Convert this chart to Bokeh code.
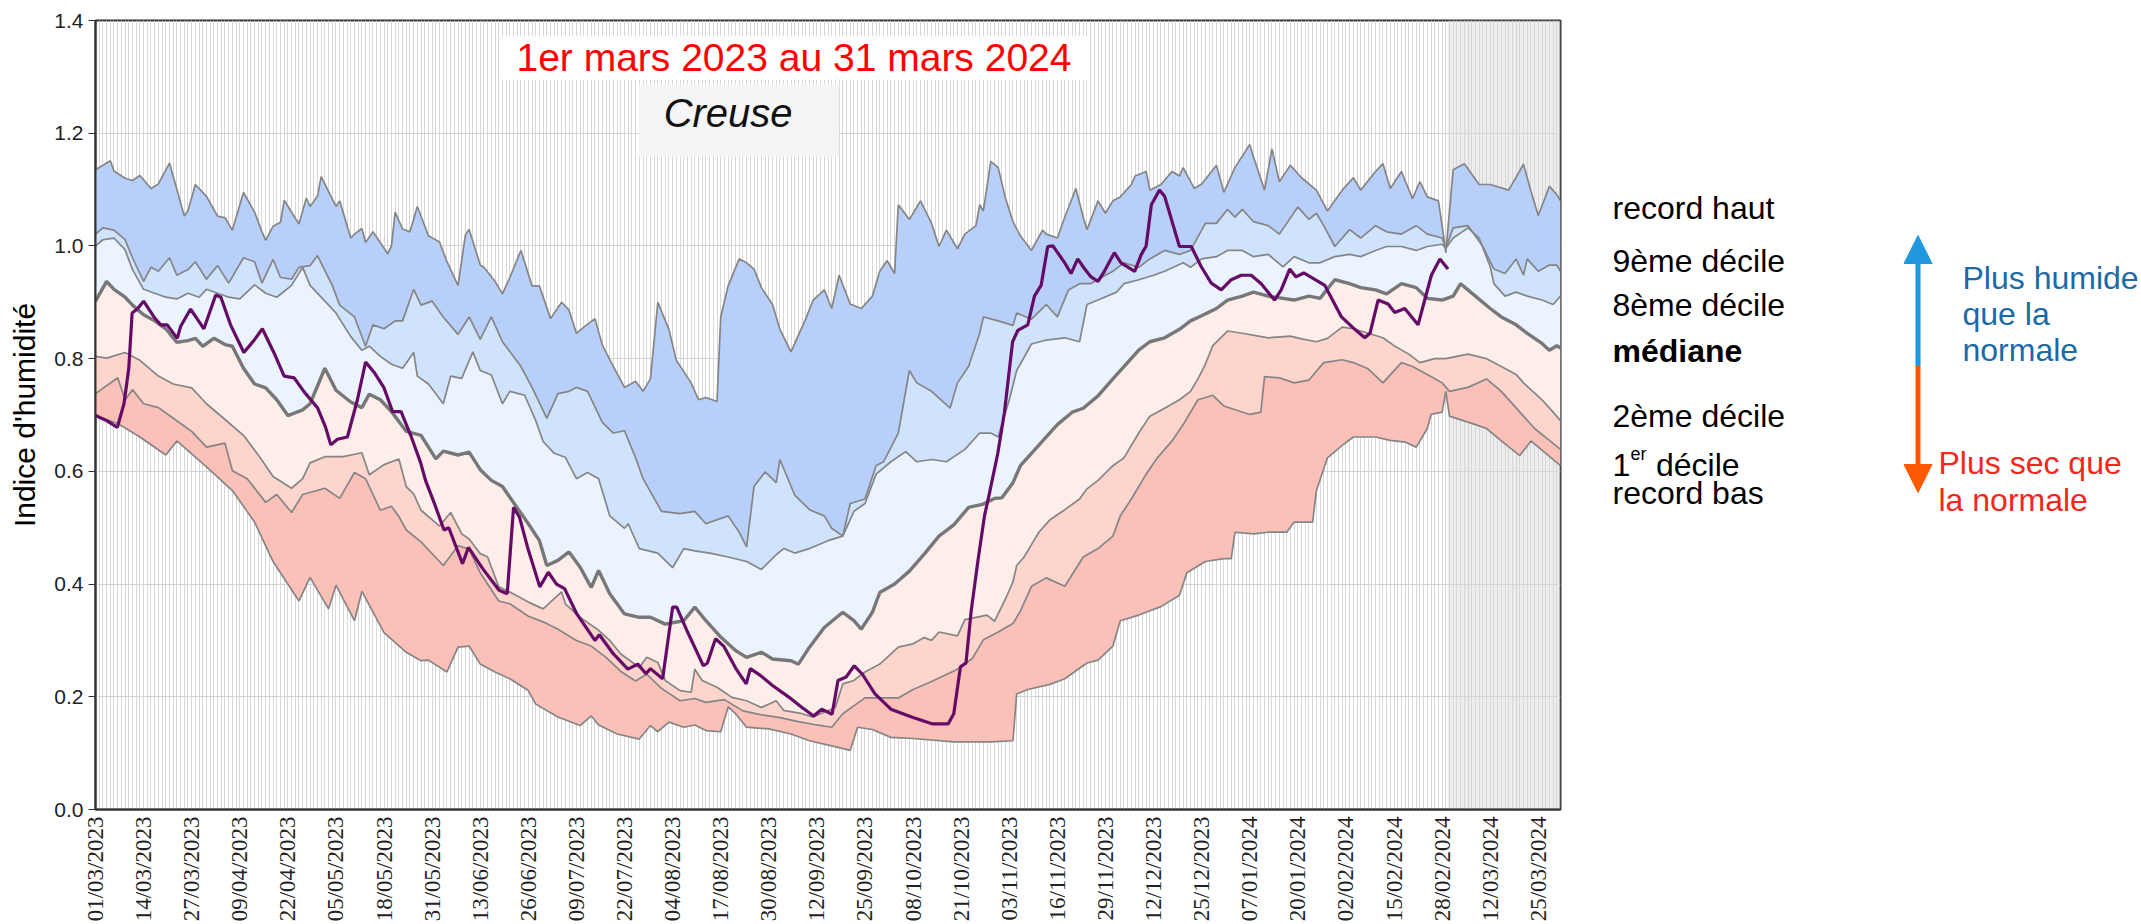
import math
from bokeh.plotting import figure
from bokeh.models import (Range1d, FixedTicker, BoxAnnotation, Label, Arrow,
                          NormalHead, NumeralTickFormatter)
from bokeh.layouts import row
from bokeh.embed import file_html
from bokeh.resources import INLINE

# ---------------- data (day index from 01/03/2023, value) ----------------
tick_labels = ["01/03/2023", "14/03/2023", "27/03/2023", "09/04/2023", "22/04/2023",
               "05/05/2023", "18/05/2023", "31/05/2023", "13/06/2023", "26/06/2023",
               "09/07/2023", "22/07/2023", "04/08/2023", "17/08/2023", "30/08/2023",
               "12/09/2023", "25/09/2023", "08/10/2023", "21/10/2023", "03/11/2023",
               "16/11/2023", "29/11/2023", "12/12/2023", "25/12/2023", "07/01/2024",
               "20/01/2024", "02/02/2024", "15/02/2024", "28/02/2024", "12/03/2024",
               "25/03/2024"]
TICK_STEP_DAYS = 13
LAST_DAY = 396
FUTURE_START = 365.5

record_haut = [(0,1.135),(4,1.151),(5,1.133),(8,1.12),(10,1.116),(12,1.125),(15,1.102),(17,1.11),
    (20,1.147),(24,1.053),(25,1.063),(27,1.109),(30,1.088),(33,1.053),(35,1.05),(37,1.028),
    (40,1.095),(43,1.06),(45,1.025),(46,1.01),(48,1.035),(50,1.042),(51,1.081),(55,1.039),
    (57,1.085),(58,1.07),(60,1.088),(61,1.123),(65,1.07),(66,1.08),(69,1.014),(70,1.021),
    (72,1.031),(73,1.006),(75,1.025),(79,0.986),(80,1.0),(81,1.06),(83,1.03),(85,1.025),
    (87,1.07),(90,1.018),(93,1.007),(95,0.972),(98,0.93),(100,1.02),(101,1.029),(104,0.966),
    (105,0.962),(108,0.937),(110,0.915),(112,0.944),(115,0.992),(118,0.929),(120,0.929),
    (123,0.871),(126,0.9),(128,0.886),(130,0.845),(132,0.856),(135,0.871),(137,0.824),
    (140,0.786),(143,0.749),(146,0.76),(148,0.742),(150,0.764),(152,0.9),(155,0.852),
    (157,0.797),(161,0.757),(163,0.727),(165,0.731),(168,0.724),(169,0.874),(171,0.929),
    (174,0.977),(176,0.97),(178,0.959),(180,0.926),(183,0.896),(185,0.852),(188,0.812),
    (192,0.871),(194,0.904),(197,0.922),(199,0.889),(201,0.948),(204,0.897),(207,0.889),
    (210,0.911),(212,0.955),(214,0.974),(216,0.951),(217,1.073),(220,1.047),(223,1.08),
    (226,1.04),(228,0.999),(230,1.028),(233,0.995),(235,1.021),(238,1.036),(239,1.073),
    (240,1.062),(242,1.15),(244,1.139),(246,1.084),(248,1.043),(250,1.018),(253,0.992),
    (256,1.028),(257,1.021),(260,1.014),(262,1.051),(265,1.102),(267,1.051),(268,1.029),
    (271,1.08),(273,1.058),(275,1.08),(277,1.087),(280,1.109),(281,1.124),(284,1.132),
    (285,1.099),(288,1.109),(291,1.132),(293,1.124),(294,1.139),(297,1.102),(299,1.11),
    (303,1.143),(305,1.095),(308,1.139),(312,1.18),(313,1.158),(316,1.099),(318,1.172),
    (320,1.114),(323,1.143),(326,1.121),(330,1.099),(333,1.062),(337,1.099),(340,1.121),
    (342,1.099),(346,1.132),(348,1.146),(350,1.102),(353,1.132),(356,1.084),(358,1.114),
    (360,1.087),(363,1.08),(364,1.036),(365,0.988),(367,1.135),(370,1.146),(374,1.109),
    (377,1.109),(382,1.099),(386,1.145),(388,1.097),(390,1.054),(393,1.106),(395,1.091),
    (396,1.08)]

decile_9 = [(0,1.021),(2,1.032),(5,1.028),(8,1.011),(10,0.979),(13,0.937),(15,0.962),(17,0.955),
    (20,0.979),(22,0.948),(25,0.958),(27,0.972),(30,0.941),(33,0.965),(36,0.934),(40,0.979),
    (43,0.972),(45,0.934),(48,0.976),(50,0.944),(53,0.941),(55,0.962),(58,0.965),(60,0.983),
    (64,0.93),(66,0.895),(70,0.874),(73,0.822),(75,0.86),(78,0.853),(81,0.867),(83,0.867),
    (86,0.923),(88,0.895),(91,0.902),(94,0.874),(98,0.843),(101,0.874),(104,0.834),(107,0.874),
    (110,0.83),(115,0.786),(118,0.749),(122,0.694),(125,0.738),(128,0.742),(130,0.749),
    (133,0.742),(137,0.687),(140,0.668),(143,0.672),(146,0.624),(148,0.587),(153,0.529),
    (158,0.525),(162,0.529),(165,0.507),(171,0.521),(174,0.492),(176,0.466),(178,0.573),
    (181,0.599),(184,0.58),(185,0.621),(189,0.558),(193,0.532),(197,0.521),(199,0.499),
    (202,0.485),(204,0.543),(208,0.551),(211,0.61),(213,0.617),(217,0.668),(220,0.779),
    (222,0.757),(226,0.742),(231,0.712),(233,0.757),(236,0.786),(239,0.845),(240,0.874),
    (244,0.867),(248,0.859),(249,0.881),(253,0.87),(257,0.896),(260,0.874),(263,0.922),
    (266,0.933),(269,0.933),(273,0.948),(275,0.955),(278,0.97),(282,0.962),(285,0.977),
    (289,0.992),(293,0.985),(296,0.992),(300,1.04),(303,1.04),(306,1.065),(308,1.051),
    (310,1.065),(313,1.043),(317,1.036),(320,1.021),(322,1.04),(325,1.069),(328,1.047),
    (330,1.058),(332,1.036),(335,0.999),(339,1.029),(342,1.014),(346,1.036),(349,1.025),
    (353,1.021),(357,1.036),(360,1.021),(364,1.014),(365,0.996),(367,1.032),(371,1.036),
    (375,0.999),(378,0.959),(381,0.951),(384,0.977),(386,0.948),(387,0.977),(390,0.955),
    (393,0.966),(395,0.966),(396,0.955)]

decile_8 = [(0,1.0),(2,1.011),(5,1.014),(8,0.993),(10,0.958),(13,0.923),(16,0.916),(19,0.909),
    (22,0.906),(25,0.916),(28,0.909),(30,0.923),(33,0.916),(36,0.909),(39,0.906),(43,0.931),
    (46,0.916),(49,0.909),(53,0.93),(56,0.962),(58,0.93),(62,0.902),(65,0.881),(69,0.839),
    (72,0.815),(74,0.822),(77,0.804),(80,0.79),(83,0.783),(86,0.811),(87,0.769),(90,0.755),
    (94,0.72),(96,0.769),(99,0.765),(102,0.812),(104,0.779),(107,0.771),(110,0.72),(112,0.742),
    (116,0.735),(119,0.69),(121,0.653),(124,0.632),(127,0.625),(130,0.587),(133,0.598),
    (136,0.587),(139,0.521),(143,0.499),(144,0.507),(147,0.463),(152,0.455),(156,0.429),
    (159,0.463),(162,0.459),(166,0.455),(171,0.448),(176,0.44),(180,0.426),(184,0.452),
    (186,0.463),(189,0.455),(193,0.463),(198,0.477),(202,0.485),(205,0.529),(208,0.543),
    (211,0.595),(215,0.617),(219,0.635),(222,0.617),(226,0.621),(230,0.617),(235,0.639),
    (239,0.668),(242,0.668),(244,0.661),(247,0.727),(249,0.779),(253,0.826),(257,0.833),
    (262,0.837),(266,0.83),(268,0.896),(271,0.904),(276,0.918),(278,0.933),(282,0.94),
    (286,0.948),(289,0.955),(294,0.97),(296,0.962),(299,0.977),(303,0.981),(306,0.992),
    (310,0.992),(313,0.981),(317,0.985),(321,0.963),(324,0.981),(328,0.97),(331,0.97),
    (335,0.981),(339,0.985),(342,0.981),(346,0.992),(349,0.999),(353,0.999),(357,0.992),
    (360,0.999),(364,1.003),(365,0.996),(367,1.014),(371,1.032),(374,1.014),(377,0.963),
    (378,0.933),(381,0.911),(384,0.918),(387,0.911),(391,0.904),(394,0.896),(396,0.911)]

mediane = [(0,0.902),(3,0.937),(5,0.923),(8,0.909),(10,0.895),(13,0.878),(16,0.867),(19,0.853),
    (22,0.829),(25,0.832),(27,0.836),(29,0.822),(32,0.836),(35,0.825),(37,0.822),(40,0.783),
    (43,0.755),(46,0.748),(49,0.727),(52,0.699),(56,0.709),(58,0.72),(62,0.783),(65,0.744),
    (69,0.723),(72,0.713),(74,0.737),(77,0.727),(80,0.706),(84,0.671),(88,0.664),(90,0.643),
    (92,0.622),(94,0.636),(98,0.629),(101,0.634),(104,0.603),(107,0.584),(110,0.573),
    (112,0.554),(117,0.507),(120,0.477),(122,0.433),(125,0.442),(128,0.457),(131,0.43),
    (134,0.394),(136,0.424),(139,0.383),(143,0.347),(147,0.341),(150,0.341),(154,0.329),
    (159,0.335),(162,0.359),(165,0.335),(169,0.306),(173,0.282),(176,0.27),(180,0.279),
    (183,0.267),(188,0.264),(190,0.258),(193,0.288),(197,0.323),(202,0.35),(205,0.335),
    (207,0.32),(210,0.35),(212,0.385),(216,0.4),(220,0.423),(224,0.453),(228,0.485),
    (232,0.505),(236,0.536),(240,0.542),(243,0.552),(245,0.553),(248,0.58),(250,0.61),
    (253,0.632),(257,0.661),(260,0.683),(264,0.705),(267,0.712),(271,0.734),(275,0.764),
    (278,0.786),(282,0.815),(285,0.83),(289,0.837),(293,0.852),(296,0.867),(299,0.876),
    (303,0.889),(306,0.904),(310,0.911),(313,0.918),(317,0.911),(321,0.907),(324,0.904),
    (328,0.911),(331,0.907),(335,0.94),(339,0.933),(342,0.926),(346,0.922),(349,0.915),
    (353,0.933),(357,0.926),(360,0.907),(364,0.904),(367,0.911),(369,0.933),(373,0.911),
    (377,0.889),(380,0.874),(384,0.86),(387,0.845),(391,0.827),(393,0.815),(395,0.823),
    (396,0.819)]

decile_2 = [(0,0.804),(3,0.801),(8,0.811),(12,0.797),(17,0.769),(21,0.755),(26,0.748),(30,0.72),
    (35,0.692),(40,0.664),(44,0.629),(48,0.591),(53,0.57),(56,0.587),(58,0.615),(62,0.626),
    (67,0.626),(72,0.633),(74,0.594),(78,0.612),(82,0.622),(84,0.573),(86,0.56),(88,0.531),
    (93,0.503),(96,0.527),(99,0.489),(101,0.48),(104,0.454),(106,0.448),(109,0.395),
    (112,0.386),(117,0.368),(121,0.356),(126,0.386),(127,0.365),(131,0.341),(136,0.318),
    (139,0.3),(142,0.276),(147,0.252),(149,0.27),(152,0.261),(154,0.229),(158,0.211),
    (161,0.208),(162,0.249),(164,0.229),(168,0.217),(172,0.199),(176,0.193),(180,0.181),
    (184,0.193),(186,0.176),(191,0.17),(194,0.164),(196,0.17),(200,0.181),(202,0.223),
    (205,0.229),(208,0.244),(212,0.258),(214,0.27),(217,0.288),(221,0.294),(224,0.305),
    (226,0.3),(228,0.315),(233,0.308),(235,0.337),(241,0.345),(243,0.334),(246,0.374),
    (248,0.404),(249,0.433),(251,0.448),(253,0.47),(255,0.492),(258,0.514),(262,0.532),
    (266,0.551),(268,0.569),(271,0.584),(275,0.61),(278,0.624),(282,0.668),(285,0.698),
    (289,0.712),(293,0.727),(296,0.742),(298,0.764),(300,0.79),(302,0.823),(306,0.849),
    (310,0.845),(317,0.837),(323,0.84),(326,0.835),(330,0.83),(333,0.836),(337,0.856),
    (340,0.853),(344,0.845),(348,0.837),(351,0.823),(355,0.808),(358,0.793),(362,0.8),
    (365,0.8),(371,0.808),(376,0.8),(380,0.786),(384,0.772),(386,0.757),(391,0.727),
    (394,0.705),(396,0.69)]

decile_1 = [(0,0.738),(6,0.766),(8,0.727),(10,0.745),(13,0.72),(17,0.713),(20,0.699),(23,0.685),
    (26,0.671),(30,0.643),(35,0.65),(37,0.601),(41,0.587),(46,0.545),(49,0.559),(53,0.527),
    (56,0.559),(62,0.57),(66,0.552),(70,0.598),(73,0.587),(77,0.531),(80,0.538),(82,0.52),
    (84,0.496),(88,0.475),(94,0.433),(98,0.468),(101,0.462),(104,0.42),(109,0.37),
    (112,0.365),(117,0.343),(121,0.333),(125,0.32),(130,0.3),(134,0.29),(138,0.27),
    (142,0.245),(146,0.228),(149,0.24),(153,0.215),(158,0.193),(162,0.197),(165,0.19),
    (170,0.195),(175,0.175),(180,0.168),(185,0.163),(190,0.156),(195,0.15),(199,0.146),
    (202,0.17),(208,0.198),(217,0.198),(221,0.213),(226,0.227),(233,0.249),(237,0.268),
    (240,0.301),(244,0.315),(248,0.33),(250,0.352),(253,0.396),(257,0.411),(262,0.396),
    (267,0.448),(271,0.463),(275,0.485),(277,0.521),(280,0.551),(284,0.595),(287,0.624),
    (291,0.654),(294,0.683),(298,0.727),(302,0.735),(305,0.716),(312,0.701),(315,0.705),
    (316,0.768),(320,0.766),(324,0.757),(328,0.762),(332,0.793),(337,0.798),(340,0.793),
    (344,0.782),(348,0.757),(353,0.793),(356,0.786),(360,0.772),(364,0.757),(366,0.742),
    (371,0.749),(376,0.764),(380,0.742),(386,0.698),(389,0.676),(393,0.655),(396,0.639)]

record_bas = [(0,0.699),(6,0.685),(12,0.661),(19,0.629),(22,0.654),(30,0.608),(37,0.566),
    (43,0.51),(48,0.44),(55,0.37),(58,0.412),(63,0.356),(65,0.398),(70,0.335),(72,0.387),
    (78,0.314),(84,0.279),(88,0.264),(90,0.265),(95,0.244),(98,0.288),(101,0.29),(104,0.258),
    (108,0.244),(112,0.232),(117,0.211),(119,0.187),(125,0.164),(131,0.149),(134,0.166),
    (136,0.15),(141,0.134),(147,0.125),(150,0.149),(152,0.138),(155,0.155),(159,0.146),
    (162,0.15),(165,0.14),(169,0.138),(171,0.182),(173,0.17),(176,0.146),(182,0.143),
    (188,0.134),(193,0.122),(199,0.113),(204,0.105),(206,0.146),(210,0.142),(215,0.128),
    (221,0.126),(232,0.12),(242,0.12),(248,0.122),(249,0.205),(252,0.213),(258,0.222),
    (262,0.232),(268,0.26),(271,0.265),(275,0.29),(277,0.335),(282,0.345),(288,0.36),
    (293,0.38),(295,0.42),(300,0.44),(305,0.445),(307,0.445),(308,0.492),(313,0.489),
    (317,0.492),(322,0.492),(324,0.51),(329,0.51),(330,0.565),(333,0.624),(337,0.646),
    (340,0.661),(346,0.661),(350,0.655),(354,0.652),(357,0.643),(360,0.676),(361,0.701),
    (364,0.705),(365,0.742),(366,0.698),(373,0.683),(376,0.676),(380,0.654),(385,0.628),
    (388,0.654),(396,0.61)]

annee_2023_2024 = [(0,0.699),(3,0.69),(5.9,0.678),(7.7,0.72),(9,0.783),(9.9,0.881),(11.3,0.888),
    (13,0.902),(15.8,0.874),(17.6,0.86),(19.4,0.86),(22.1,0.836),(23,0.857),(25.7,0.888),
    (29.3,0.853),(32.5,0.913),(33.9,0.909),(36.5,0.86),(40.1,0.811),(42.8,0.832),(45.1,0.853),
    (48.2,0.811),(51,0.769),(53.7,0.766),(56.4,0.741),(60,0.713),(62.2,0.678),(63.6,0.647),
    (65.4,0.657),(68.1,0.661),(70.8,0.727),(73,0.794),(75.3,0.776),(78,0.748),(80.3,0.706),
    (82.6,0.706),(85.2,0.664),(87.9,0.615),(89.2,0.584),(91.5,0.545),(94.2,0.496),(95.5,0.5),
    (99.2,0.436),(100.8,0.465),(104.7,0.427),(109.1,0.389),(111.3,0.383),(113,0.536),
    (114.6,0.519),(116.8,0.465),(120.1,0.395),(122.4,0.421),(124.6,0.4),(126.8,0.392),
    (130.1,0.347),(135,0.3),(136.2,0.31),(140,0.276),(143.9,0.249),(146.6,0.258),(148.8,0.241),
    (150,0.25),(153.3,0.232),(156,0.359),(157.1,0.359),(159.9,0.317),(164.3,0.255),(165.4,0.26),
    (167.6,0.303),(169.8,0.29),(173.1,0.25),(175.9,0.223),(177,0.25),(179.7,0.238),(183,0.22),
    (187.5,0.199),(190.8,0.182),(194.1,0.166),(196.3,0.178),(199.1,0.169),(200.7,0.229),
    (202.9,0.235),(205.1,0.255),(207.3,0.24),(210.7,0.205),(215,0.178),(220.6,0.164),
    (226.1,0.152),(230.5,0.152),(232,0.17),(233.8,0.253),(235.3,0.26),(236.7,0.352),
    (238.5,0.44),(240.3,0.521),(241.6,0.56),(243.9,0.632),(245.7,0.705),(247.9,0.83),
    (249.3,0.85),(252,0.86),(253.8,0.911),(255.6,0.93),(257.4,0.999),(258.8,1.0),(262,0.97),
    (263.7,0.951),(265.5,0.977),(267.3,0.96),(269.1,0.945),(271,0.937),(272.7,0.955),
    (275.4,0.988),(277.2,0.97),(280.9,0.955),(282.7,0.985),(284,1.0),(285.4,1.073),
    (287.6,1.099),(289,1.088),(293,0.999),(296.2,0.999),(298.9,0.963),(301.6,0.934),
    (304.3,0.922),(307,0.94),(309.7,0.948),(312.4,0.948),(315.1,0.933),(318.7,0.904),
    (320.5,0.922),(322.8,0.959),(324.5,0.945),(326.6,0.952),(332.3,0.93),(336.8,0.874),
    (340.4,0.852),(343.1,0.837),(344.5,0.845),(346.7,0.904),(349.4,0.897),(351.2,0.882),
    (353.9,0.889),(357.5,0.86),(359.3,0.904),(361.1,0.948),(363.4,0.977),(365.6,0.959)]


def unzip(pairs):
    return [a for a, _ in pairs], [b for _, b in pairs]


RH, D9, D8, MED, D2, D1, RB, OBS = [unzip(s) for s in (record_haut, decile_9, decile_8, mediane,
                                                        decile_2, decile_1, record_bas,
                                                        annee_2023_2024)]

FONT = "Liberation Sans"

# page geometry (pixels)
PAGE_W, PAGE_H = 2140, 924
FRAME_L, FRAME_R, FRAME_T, FRAME_B = 95, 1560, 20, 809
CHART_W = FRAME_R + 2

# ---------------- main chart ----------------
p = figure(width=CHART_W, height=PAGE_H, x_range=Range1d(0, LAST_DAY), y_range=Range1d(0, 1.4),
           toolbar_location=None, output_backend="svg",
           min_border_left=FRAME_L, min_border_right=CHART_W - FRAME_R,
           min_border_top=FRAME_T, min_border_bottom=PAGE_H - FRAME_B)
p.background_fill_color = "white"
p.border_fill_color = "white"
p.outline_line_color = "#333333"
p.outline_line_width = 2

p.xgrid.ticker = FixedTicker(ticks=list(range(0, LAST_DAY + 1)))
p.xgrid.grid_line_color = "#d8d8d8"
p.xgrid.grid_line_width = 1
p.ygrid.ticker = FixedTicker(ticks=[0.2, 0.4, 0.6, 0.8, 1.0, 1.2])
p.ygrid.grid_line_color = "#d4d4d4"
p.ygrid.grid_line_width = 1.2

p.add_layout(BoxAnnotation(left=FUTURE_START, right=LAST_DAY, fill_color="#d6d6d6",
                           fill_alpha=0.45, line_color=None, level="underlay"))

bands = [(RH, D9, "#b8cffa"), (D9, D8, "#cfe3fd"), (D8, MED, "#eaf3fe"),
         (MED, D2, "#fdeee9"), (D2, D1, "#fdd5cc"), (D1, RB, "#fbc0b8")]
for up, lo, col in bands:
    xs = up[0] + lo[0][::-1]
    ys = up[1] + lo[1][::-1]
    p.patch(xs, ys, fill_color=col, line_color=None)

for s in (RH, D9, D8, D2, D1, RB):
    p.line(s[0], s[1], line_color="#858585", line_width=1.7)
p.line(MED[0], MED[1], line_color="#777777", line_width=3.4)
p.line(OBS[0], OBS[1], line_color="#650a66", line_width=3.2)

# title boxes
p.add_layout(BoxAnnotation(left=109.5, right=268.0, bottom=1.295, top=1.372,
                           fill_color="white", fill_alpha=1.0, line_color=None))
p.add_layout(BoxAnnotation(left=146.9, right=201.0, bottom=1.159, top=1.286,
                           fill_color="#f5f5f5", fill_alpha=1.0, line_color=None))
p.add_layout(Label(x=188.8, y=1.334, text="1er mars 2023 au 31 mars 2024",
                   text_align="center", text_baseline="middle", text_font=FONT,
                   text_font_size="39px", text_color="#ff0000"))
p.add_layout(Label(x=171.0, y=1.235, text="Creuse", text_align="center",
                   text_baseline="middle", text_font=FONT, text_font_size="40px",
                   text_font_style="italic", text_color="#111111"))

# axes
ticks = [TICK_STEP_DAYS * i for i in range(len(tick_labels))]
p.xaxis.ticker = FixedTicker(ticks=ticks)
p.xaxis.major_label_overrides = {t: lab for t, lab in zip(ticks, tick_labels)}
p.xaxis.major_label_orientation = math.pi / 2
p.xaxis.major_label_text_font = "Liberation Sans Narrow"
p.xaxis.major_label_text_font_size = "23px"
p.xaxis.major_label_text_color = "#222222"
p.xaxis.major_tick_out = 0
p.xaxis.major_tick_in = 0
p.xaxis.minor_tick_out = 0
p.xaxis.minor_tick_in = 0
p.xaxis.major_label_standoff = 7

p.yaxis.ticker = FixedTicker(ticks=[0.0, 0.2, 0.4, 0.6, 0.8, 1.0, 1.2, 1.4])
p.yaxis.formatter = NumeralTickFormatter(format="0.0")
p.yaxis.major_label_text_font = FONT
p.yaxis.major_label_text_font_size = "21px"
p.yaxis.major_label_text_color = "#222222"
p.yaxis.major_tick_out = 7
p.yaxis.major_tick_in = 0
p.yaxis.minor_tick_out = 0
p.yaxis.minor_tick_in = 0
p.yaxis.major_label_standoff = 5
p.yaxis.axis_label = "Indice d'humidité"
p.yaxis.axis_label_text_font = FONT
p.yaxis.axis_label_text_font_size = "30px"
p.yaxis.axis_label_text_font_style = "normal"
p.yaxis.axis_label_text_color = "#000000"
p.yaxis.axis_label_standoff = 10
for ax in (p.xaxis, p.yaxis):
    ax.axis_line_color = "#333333"
    ax.axis_line_width = 2
    ax.major_tick_line_color = "#333333"

# ---------------- legend panel (coordinates = page pixels) ----------------
LW = PAGE_W - CHART_W
leg = figure(width=LW, height=PAGE_H, x_range=Range1d(CHART_W, PAGE_W),
             y_range=Range1d(FRAME_B, FRAME_T),
             x_axis_type=None, y_axis_type=None, toolbar_location=None,
             output_backend="svg", min_border_left=0, min_border_right=0,
             min_border_top=FRAME_T, min_border_bottom=PAGE_H - FRAME_B)
leg.outline_line_color = None
leg.grid.visible = False
leg.background_fill_color = "white"
leg.border_fill_color = "white"


def txt(x, y, t, size="32px", color="#000000", style="normal"):
    leg.add_layout(Label(x=x, y=y, text=t, text_font=FONT, text_font_size=size,
                         text_color=color, text_font_style=style,
                         text_baseline="alphabetic", text_align="left"))


LEG_X = 1612
DY = -13
legend_rows = [("record haut", 220, "normal"), ("9ème décile", 273, "normal"),
               ("8ème décile", 317, "normal"), ("médiane", 363, "bold"),
               ("2ème décile", 428, "normal"), ("record bas", 505, "normal")]
for t, y, st in legend_rows:
    txt(LEG_X, y + DY, t, style=st)
txt(LEG_X, 477 + DY, "1")
txt(LEG_X + 18, 466 + DY, "er", size="18px")
txt(LEG_X + 43.5, 477 + DY, "décile")

BLUE_TXT = "#1a6aa8"
RED_TXT = "#f5261a"
for t, y in (("Plus humide", 290), ("que la", 326), ("normale", 362)):
    txt(1962, y + DY, t, color=BLUE_TXT)
for t, y in (("Plus sec que", 475), ("la normale", 512)):
    txt(1938, y + DY, t, color=RED_TXT)

AX = 1917.5
leg.add_layout(Arrow(end=NormalHead(size=28, fill_color="#1f98e0", line_color="#1f98e0"),
                     x_start=AX, y_start=365.5, x_end=AX, y_end=235,
                     line_color="#1f98e0", line_width=5))
leg.add_layout(Arrow(end=NormalHead(size=28, fill_color="#ff5a00", line_color="#ff5a00"),
                     x_start=AX, y_start=365.5, x_end=AX, y_end=492,
                     line_color="#ff5a00", line_width=5))

layout = row(p, leg)
open("out.html", "w").write(file_html(layout, INLINE))
